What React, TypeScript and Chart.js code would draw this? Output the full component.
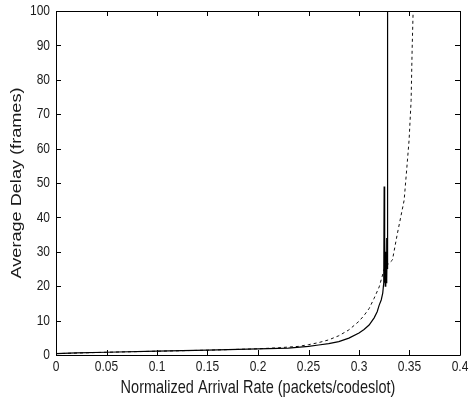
import React, { useEffect, useRef } from "react";
import { Chart, registerables } from "chart.js";

Chart.register(...registerables);

// Tick values
const xTickValues = [0, 0.05, 0.1, 0.15, 0.2, 0.25, 0.3, 0.35, 0.4];
const yTickValues = [0, 10, 20, 30, 40, 50, 60, 70, 80, 90, 100];

// Solid curve
const solidX = [0, 0.02, 0.05, 0.1, 0.15, 0.2, 0.23, 0.25, 0.26, 0.27, 0.28, 0.29, 0.3, 0.305, 0.31, 0.315, 0.318, 0.32, 0.322, 0.3235, 0.3245, 0.3249, 0.3252, 0.3256, 0.326, 0.3265, 0.327, 0.3273, 0.3276, 0.328, 0.3283, 0.3283];
const solidY = [0.4, 0.6, 0.8, 1.1, 1.4, 1.8, 2.0, 2.5, 2.9, 3.3, 3.9, 4.9, 6.4, 7.4, 8.7, 10.8, 12.6, 14.5, 16, 18, 21, 49, 21, 34, 20, 30, 21, 34, 22, 32, 25, 100];

// Dashed curve
const dashedX = [0, 0.05, 0.1, 0.15, 0.2, 0.22, 0.24, 0.25, 0.26, 0.27, 0.28, 0.29, 0.3, 0.305, 0.31, 0.315, 0.32, 0.325, 0.329, 0.3331, 0.3378, 0.3447, 0.348, 0.3496, 0.3516, 0.3526, 0.3536];
const dashedY = [0.4, 0.8, 1.1, 1.4, 1.8, 2.1, 2.5, 3.0, 3.6, 4.4, 5.6, 7.3, 9.8, 11.5, 13.5, 16.5, 19.8, 25.0, 26.5, 27.6, 35.0, 45, 56.7, 62.5, 74, 88.7, 100];

const xTitle = "Normalized Arrival Rate (packets/codeslot)";
const yTitle = "Average Delay (frames)";

const sans = "'Liberation Sans', Arial, sans-serif";
const textColor = "#1a1a1a";
const STRETCH = 1.25;
const X_TITLE_SIZE = 14.5;
const X_TITLE_PB = 2;
const Y_TICK_PAD = 6;

const framePlugin = {
  id: "frameTicks",
  afterDatasetsDraw(chart: any) {
    const { ctx, chartArea, scales } = chart;
    const { left, right, top, bottom } = chartArea;
    const x = scales.x;
    const y = scales.y;
    ctx.save();
    ctx.strokeStyle = "#000";
    ctx.lineWidth = 1;
    ctx.beginPath();
    ctx.rect(Math.round(left) + 0.5, Math.round(top) + 0.5, Math.round(right - left), Math.round(bottom - top));
    ctx.stroke();
    const len = 5;
    ctx.beginPath();
    x.ticks.forEach((t: any) => {
      const px = Math.round(x.getPixelForValue(t.value)) + 0.5;
      ctx.moveTo(px, bottom);
      ctx.lineTo(px, bottom - len);
      ctx.moveTo(px, top);
      ctx.lineTo(px, top + len);
    });
    y.ticks.forEach((t: any) => {
      const py = Math.round(y.getPixelForValue(t.value)) + 0.5;
      ctx.moveTo(left, py);
      ctx.lineTo(left + len, py);
      ctx.moveTo(right, py);
      ctx.lineTo(right - len, py);
    });
    ctx.stroke();
    ctx.restore();
  },
};

// Text in the reference is taller than wide: draw the scale's own labels/titles with a stretch.
const stretchPlugin = {
  id: "stretchText",
  beforeDraw(chart: any) {
    const x = chart.scales.x;
    const y = chart.scales.y;
    if (x.__stretched) return;
    x.__stretched = true;
    const ctx = chart.ctx;
    const wrap = (obj: any, name: string, fn: () => void) => {
      const orig = obj[name].bind(obj);
      obj[name] = (...args: any[]) => {
        ctx.save();
        fn();
        orig(...args);
        ctx.restore();
      };
    };
    wrap(x, "drawLabels", () => {
      const y0 = x.top;
      ctx.translate(0, y0);
      ctx.scale(1, STRETCH);
      ctx.translate(0, -y0);
    });
    wrap(x, "drawTitle", () => {
      const y0 = x.bottom - (X_TITLE_SIZE * 1.2) / 2 - X_TITLE_PB;
      ctx.translate(0, y0);
      ctx.scale(1, STRETCH);
      ctx.translate(0, -y0);
    });
    wrap(y, "drawLabels", () => {
      const x0 = y.right - Y_TICK_PAD;
      ctx.translate(x0, 0);
      ctx.scale(1 / STRETCH, 1);
      ctx.translate(-x0, 0);
    });
    wrap(y, "drawTitle", () => {
      const y0 = (y.top + y.bottom) / 2;
      ctx.translate(0, y0);
      ctx.scale(1, STRETCH);
      ctx.translate(0, -y0);
    });
  },
};

export default function App() {
  const ref = useRef<HTMLCanvasElement | null>(null);

  useEffect(() => {
    if (!ref.current) return;
    const chart = new Chart(ref.current, {
      type: "line",
      data: {
        datasets: [
          {
            label: "solid",
            data: solidX.map((v, i) => ({ x: v, y: solidY[i] })),
            borderColor: "#000",
            borderWidth: 1.2,
            pointRadius: 0,
            tension: 0,
            fill: false,
          },
          {
            label: "dashed",
            data: dashedX.map((v, i) => ({ x: v, y: dashedY[i] })),
            borderColor: "#111",
            borderWidth: 1,
            borderDash: [3, 3],
            pointRadius: 0,
            tension: 0,
            fill: false,
          },
        ],
      },
      options: {
        animation: false,
        responsive: false,
        maintainAspectRatio: false,
        layout: { padding: { left: 0, top: 11, right: 15, bottom: 0 } },
        plugins: { legend: { display: false }, tooltip: { enabled: false } },
        scales: {
          x: {
            type: "linear",
            min: 0,
            max: 0.4,
            afterBuildTicks: (scale: any) => {
              scale.ticks = xTickValues.map((v) => ({ value: v }));
            },
            afterFit: (scale: any) => {
              scale.height = 44;
              scale.paddingLeft = 0;
              scale.paddingRight = 0;
            },
            grid: { display: false, drawTicks: false, tickLength: 0 },
            border: { display: false },
            ticks: {
              maxRotation: 0,
              autoSkip: false,
              padding: 2,
              color: textColor,
              font: { family: sans, size: 12 },
              callback: (v: any) => String(Number(Number(v).toFixed(2))),
            },
            title: {
              display: true,
              text: xTitle,
              color: textColor,
              font: { family: sans, size: X_TITLE_SIZE },
              padding: { top: 0, bottom: X_TITLE_PB },
            },
          },
          y: {
            type: "linear",
            min: 0,
            max: 100,
            afterBuildTicks: (scale: any) => {
              scale.ticks = yTickValues.map((v) => ({ value: v }));
            },
            afterFit: (scale: any) => {
              scale.width = 56;
              scale.paddingTop = 0;
              scale.paddingBottom = 0;
            },
            grid: { display: false, drawTicks: false, tickLength: 0 },
            border: { display: false },
            ticks: {
              autoSkip: false,
              padding: Y_TICK_PAD,
              color: textColor,
              font: { family: sans, size: 15 },
            },
            title: {
              display: true,
              text: yTitle,
              color: textColor,
              font: { family: sans, size: 14.5 },
              padding: { top: 8, bottom: 0 },
            },
          },
        },
      },
      plugins: [framePlugin, stretchPlugin],
    });
    return () => chart.destroy();
  }, []);

  return (
    <div style={{ position: "fixed", left: 0, top: 0, width: 475, height: 399, background: "#fff" }}>
      <canvas ref={ref} width={475} height={399} style={{ width: 475, height: 399 }} />
    </div>
  );
}
